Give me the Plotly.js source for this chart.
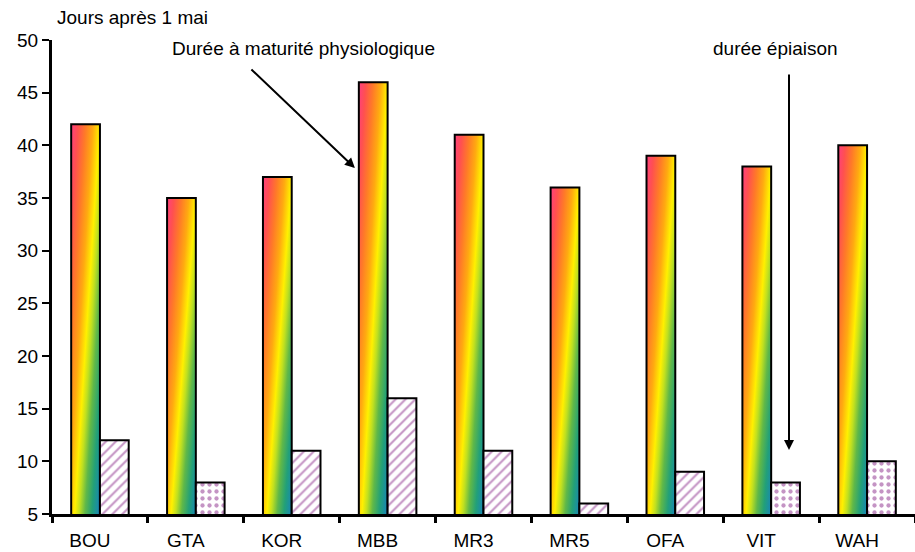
<!DOCTYPE html>
<html>
<head>
<meta charset="utf-8">
<script src="https://cdn.plot.ly/plotly-3.0.1.min.js"></script>
<style>
  html, body { margin: 0; padding: 0; background: #fff; }
  #chart { width: 915px; height: 552px; }
</style>
</head>
<body>
<div id="chart"></div>
<script>
// Varieties and durations (days after 1 May)
const varietes = ['BOU', 'GTA', 'KOR', 'MBB', 'MR3', 'MR5', 'OFA', 'VIT', 'WAH'];
const maturite = [42, 35, 37, 46, 41, 36, 39, 38, 40];
const epiaison = [12, 8, 11, 16, 11, 6, 9, 8, 10];
const motifs = ['/', '.', '/', '/', '/', '/', '/', '.', '.'];

const fontFamily = '"Liberation Sans", Arial, sans-serif';
const fs = 19;

const traces = [
  {
    type: 'bar',
    name: 'Durée à maturité physiologique',
    x: varietes,
    y: maturite,
    marker: { color: '#ffc000', line: { color: '#000', width: 2 } },
    hoverinfo: 'x+y'
  },
  {
    type: 'bar',
    name: 'durée épiaison',
    x: varietes,
    y: epiaison,
    marker: {
      color: '#ffffff',
      line: { color: '#000', width: 2 },
      pattern: { shape: motifs, fgcolor: '#8a2a8a', bgcolor: '#ffffff', size: 7, solidity: 0.3, fillmode: 'overlay' }
    },
    hoverinfo: 'x+y'
  }
];

const layout = {
  width: 915,
  height: 552,
  margin: { l: 52, r: 0, t: 40, b: 38 },
  paper_bgcolor: '#ffffff',
  plot_bgcolor: '#ffffff',
  showlegend: false,
  barmode: 'group',
  bargap: 0.4,
  bargroupgap: 0,
  font: { family: fontFamily, size: fs, color: '#000' },
  xaxis: {
    type: 'category',
    showline: true, linecolor: '#000', linewidth: 3,
    ticks: 'outside', tickson: 'boundaries', ticklen: 6, tickwidth: 3, tickcolor: '#000',
    ticklabelshift: -10, ticklabelstandoff: 7,
    showgrid: false, zeroline: false,
    tickfont: { family: fontFamily, size: fs, color: '#000' }
  },
  yaxis: {
    range: [5, 50], dtick: 5, tick0: 5,
    showline: true, linecolor: '#000', linewidth: 3,
    ticks: 'outside', ticklen: 7, tickwidth: 2, tickcolor: '#000',
    showgrid: false, zeroline: false,
    tickfont: { family: fontFamily, size: fs, color: '#000' }
  },
  annotations: [
    { text: 'Jours après 1 mai', xref: 'paper', yref: 'paper', x: 0.004, y: 1.048,
      xanchor: 'left', yanchor: 'middle', showarrow: false, font: { size: fs } },
    { text: 'Durée à maturité physiologique', xref: 'paper', yref: 'paper', x: 0.291, y: 0.983,
      xanchor: 'center', yanchor: 'middle', showarrow: false, font: { size: fs } },
    { text: 'durée épiaison', xref: 'paper', yref: 'paper', x: 0.838, y: 0.983,
      xanchor: 'center', yanchor: 'middle', showarrow: false, font: { size: fs } },
    // arrow towards the maturity bars
    { text: '', xref: 'paper', yref: 'paper', x: 0.351, y: 0.730,
      showarrow: true, ax: -105, ay: -100, arrowhead: 2, arrowsize: 1, arrowwidth: 2, arrowcolor: '#000' },
    // arrow towards the heading bars
    { text: '', xref: 'paper', yref: 'paper', x: 0.854, y: 0.135,
      showarrow: true, ax: 0, ay: -377, arrowhead: 2, arrowsize: 1, arrowwidth: 2, arrowcolor: '#000' }
  ]
};

// Rainbow fill for the maturity bars, applied per bar via objectBoundingBox
function applyRainbow(gd) {
  const svg = gd.querySelector('svg.main-svg');
  if (!svg) return;
  const ns = 'http://www.w3.org/2000/svg';
  let defs = svg.querySelector('defs');
  if (!defs) { defs = document.createElementNS(ns, 'defs'); svg.insertBefore(defs, svg.firstChild); }
  if (!defs.querySelector('#arcenciel')) {
    const grad = document.createElementNS(ns, 'linearGradient');
    grad.setAttribute('id', 'arcenciel');
    grad.setAttribute('gradientUnits', 'objectBoundingBox');
    grad.setAttribute('x1', '0'); grad.setAttribute('y1', '0');
    grad.setAttribute('x2', '1'); grad.setAttribute('y2', '1');
    const stops = [
      [0, '#ff3f80'], [0.12, '#ff5050'], [0.25, '#ff7a28'], [0.38, '#ffaa10'],
      [0.5, '#fff000'], [0.58, '#c0e020'], [0.68, '#60b848'], [0.8, '#22a078'], [0.9, '#1a8ca8'], [1, '#2266e0']
    ];
    stops.forEach(([o, c]) => {
      const s = document.createElementNS(ns, 'stop');
      s.setAttribute('offset', o);
      s.setAttribute('stop-color', c);
      grad.appendChild(s);
    });
    defs.appendChild(grad);
  }
  const barTraces = gd.querySelectorAll('.barlayer .trace.bars');
  if (barTraces.length) {
    barTraces[0].querySelectorAll('.point path').forEach(p => { p.style.fill = 'url(#arcenciel)'; });
  }
}

const gd = document.getElementById('chart');
Plotly.newPlot(gd, traces, layout, { displayModeBar: false, staticPlot: true }).then(() => applyRainbow(gd));
</script>
</body>
</html>
